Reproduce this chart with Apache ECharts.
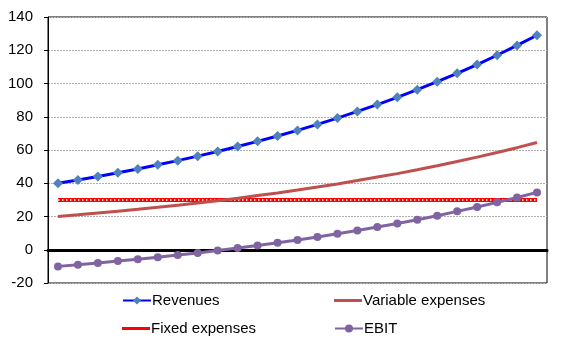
<!DOCTYPE html>
<html><head><meta charset="utf-8">
<script src="https://cdn.jsdelivr.net/npm/echarts@6/dist/echarts.min.js"></script>
<style>html,body{margin:0;padding:0;background:#fff}#c{width:562px;height:346px}</style>
</head><body><div id="c"></div>
<script>
const categories = ['1','2','3','4','5','6','7','8','9','10','11','12','13','14','15','16','17','18','19','20','21','22','23','24','25'];
const revenues = [40, 42, 44.1, 46.3, 48.6, 51.1, 53.6, 56.3, 59.1, 62.1, 65.2, 68.4, 71.8, 75.4, 79.2, 83.2, 87.3, 91.7, 96.3, 101.1, 106.1, 111.4, 117, 122.9, 129];
const variableExpenses = [20, 21, 22.1, 23.2, 24.3, 25.5, 26.8, 28.1, 29.5, 31, 32.6, 34.2, 35.9, 37.7, 39.6, 41.6, 43.7, 45.8, 48.1, 50.5, 53.1, 55.7, 58.5, 61.4, 64.5];
const fixedExpenses = [30, 30, 30, 30, 30, 30, 30, 30, 30, 30, 30, 30, 30, 30, 30, 30, 30, 30, 30, 30, 30, 30, 30, 30, 30];
const ebit = [-10, -9, -7.9, -6.8, -5.7, -4.5, -3.2, -1.9, -0.5, 1, 2.6, 4.2, 5.9, 7.7, 9.6, 11.6, 13.7, 15.8, 18.1, 20.5, 23.1, 25.7, 28.5, 31.4, 34.5];
const yTicks = {min: -20, max: 140, interval: 20};

const font = 'Arial, "Liberation Sans", sans-serif';
const chart = echarts.init(document.getElementById('c'), null, {renderer: 'canvas'});
function lg(extra) {
  return Object.assign({itemWidth: 28, itemHeight: 10, itemGap: 0, padding: 0,
    textStyle: {fontFamily: font, fontSize: 15, color: '#000', padding: [0,0,0,-4]}}, extra);
}
chart.setOption({
  animation: false,
  grid: {left: 48, top: 17, right: 15, bottom: 63, show: true, borderColor: '#000', borderWidth: 1},
  legend: [
    lg({left: 122, top: 293, data: ['Revenues']}),
    lg({left: 334, top: 293, itemHeight: 3, data: [{name: 'Variable expenses', icon: 'rect'}]}),
    lg({left: 122, top: 321, itemHeight: 3, data: [{name: 'Fixed expenses', icon: 'rect'}]}),
    lg({left: 334, top: 321, data: ['EBIT']})
  ],
  xAxis: {
    type: 'category', data: categories, boundaryGap: true,
    axisLine: {onZero: true, lineStyle: {color: '#000', width: 3}},
    axisTick: {show: false}, axisLabel: {show: false}, splitLine: {show: false}
  },
  yAxis: {
    type: 'value', min: yTicks.min, max: yTicks.max, interval: yTicks.interval,
    axisLine: {show: true, lineStyle: {color: '#000', width: 1}},
    axisTick: {show: true, length: 4, lineStyle: {color: '#000'}},
    axisLabel: {fontFamily: font, fontSize: 15, color: '#000', margin: 15},
    splitLine: {show: true, lineStyle: {color: '#b0b0b0', type: [2, 1], width: 1}}
  },
  series: [
    {name: 'Revenues', type: 'line', data: revenues, symbol: 'diamond', symbolSize: 10,
      lineStyle: {color: '#0000FF', width: 3}, itemStyle: {color: '#4F81BD'}, z: 5},
    {name: 'Variable expenses', type: 'line', data: variableExpenses, symbol: 'none',
      lineStyle: {color: '#C0504D', width: 3}, itemStyle: {color: '#C0504D'}, z: 3},
    {name: 'Fixed expenses', type: 'line', data: fixedExpenses, symbol: 'none',
      lineStyle: {color: '#FF0000', width: 4}, itemStyle: {color: '#FF0000'}, z: 2},
    {name: 'fixedDots', type: 'line', data: fixedExpenses, symbol: 'none', silent: true,
      lineStyle: {color: '#ffffff', width: 1.5, type: [1.5, 2.5]}, z: 2.5},
    {name: 'EBIT', type: 'line', data: ebit, symbol: 'circle', symbolSize: 8,
      lineStyle: {color: '#8064A2', width: 3}, itemStyle: {color: '#8064A2'}, z: 4}
  ]
});
</script></body></html>
